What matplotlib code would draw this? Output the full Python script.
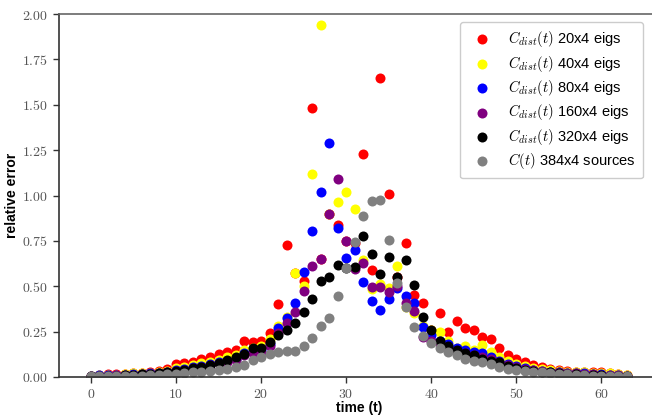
import matplotlib
matplotlib.use("Agg")
import matplotlib.pyplot as plt
import numpy as np

# > Data (relative error per time slice)
times = np.arange(64)

red = [0.005, 0.013, 0.015, 0.015, 0.016, 0.02, 0.022, 0.027, 0.033, 0.045,
       0.07, 0.075, 0.085, 0.1, 0.11, 0.125, 0.14, 0.15, 0.2, 0.195,
       0.2, 0.24, 0.4, 0.73, 0.575, 0.53, 1.48, 0.65, 0.9, 0.84,
       0.75, 0.74, 1.23, 0.59, 1.65, 1.01, 0.55, 0.74, 0.45, 0.41,
       0.26, 0.35, 0.25, 0.31, 0.27, 0.26, 0.22, 0.21, 0.16, 0.12,
       0.1, 0.085, 0.065, 0.055, 0.045, 0.04, 0.035, 0.03, 0.03, 0.028,
       0.025, 0.022, 0.015, 0.012]
yellow = [0.005, 0.01, 0.012, 0.012, 0.015, 0.02, 0.02, 0.024, 0.028, 0.035,
          0.05, 0.055, 0.065, 0.075, 0.085, 0.095, 0.11, 0.12, 0.15, 0.16,
          0.17, 0.21, 0.28, 0.33, 0.575, 0.5, 1.117, 1.94, 0.9, 0.962,
          1.02, 0.926, 0.645, 0.483, 0.515, 0.49, 0.61, 0.384, 0.35, 0.28,
          0.26, 0.25, 0.2, 0.16, 0.17, 0.15, 0.175, 0.14, 0.11, 0.09,
          0.07, 0.06, 0.05, 0.045, 0.04, 0.035, 0.03, 0.03, 0.03, 0.02,
          0.02, 0.02, 0.015, 0.01]
blue = [0.008, 0.01, 0.01, 0.01, 0.012, 0.015, 0.018, 0.02, 0.024, 0.03,
        0.04, 0.045, 0.055, 0.06, 0.07, 0.08, 0.09, 0.1, 0.13, 0.14,
        0.15, 0.18, 0.268, 0.323, 0.41, 0.58, 0.804, 1.02, 1.29, 0.823,
        0.654, 0.7, 0.522, 0.42, 0.367, 0.43, 0.49, 0.446, 0.406, 0.274,
        0.23, 0.2, 0.18, 0.16, 0.15, 0.14, 0.13, 0.11, 0.09, 0.07,
        0.06, 0.05, 0.04, 0.035, 0.03, 0.025, 0.02, 0.02, 0.02, 0.015,
        0.015, 0.012, 0.01, 0.008]
purple = [0.006, 0.008, 0.008, 0.009, 0.01, 0.013, 0.016, 0.019, 0.022, 0.028,
          0.035, 0.04, 0.048, 0.055, 0.065, 0.075, 0.085, 0.095, 0.12, 0.13,
          0.14, 0.17, 0.24, 0.3, 0.356, 0.472, 0.61, 0.652, 0.896, 1.093,
          0.75, 0.595, 0.626, 0.495, 0.495, 0.47, 0.5, 0.406, 0.365, 0.22,
          0.2, 0.18, 0.16, 0.14, 0.13, 0.12, 0.11, 0.1, 0.08, 0.065,
          0.055, 0.045, 0.04, 0.035, 0.03, 0.025, 0.02, 0.02, 0.018, 0.015,
          0.013, 0.01, 0.01, 0.008]
black = [0.005, 0.006, 0.007, 0.008, 0.01, 0.012, 0.015, 0.018, 0.022, 0.028,
         0.034, 0.04, 0.048, 0.057, 0.066, 0.078, 0.092, 0.11, 0.128, 0.158,
         0.158, 0.195, 0.231, 0.259, 0.3, 0.36, 0.428, 0.529, 0.549, 0.617,
         0.6, 0.604, 0.778, 0.675, 0.566, 0.661, 0.553, 0.645, 0.507, 0.332,
         0.259, 0.2, 0.17, 0.15, 0.13, 0.12, 0.1, 0.09, 0.08, 0.06,
         0.05, 0.04, 0.035, 0.03, 0.025, 0.02, 0.018, 0.015, 0.013, 0.01,
         0.009, 0.008, 0.006, 0.005]
gray = [0.003, 0.004, 0.005, 0.005, 0.006, 0.007, 0.008, 0.01, 0.012, 0.014,
        0.017, 0.02, 0.025, 0.03, 0.035, 0.04, 0.045, 0.055, 0.066, 0.094,
        0.108, 0.127, 0.136, 0.145, 0.145, 0.172, 0.213, 0.281, 0.323, 0.446,
        0.599, 0.742, 0.887, 0.97, 0.977, 0.757, 0.516, 0.384, 0.277, 0.228,
        0.186, 0.16, 0.14, 0.12, 0.1, 0.09, 0.08, 0.07, 0.055, 0.045,
        0.04, 0.035, 0.03, 0.025, 0.02, 0.018, 0.015, 0.012, 0.01, 0.008,
        0.006, 0.005, 0.004, 0.003]

series = [red, yellow, blue, purple, black, gray]
colors = ["red", "yellow", "blue", "purple", "black", "gray"]
labels = [
    r"$C_{dist}(t)$ 20x4 eigs",
    r"$C_{dist}(t)$ 40x4 eigs",
    r"$C_{dist}(t)$ 80x4 eigs",
    r"$C_{dist}(t)$ 160x4 eigs",
    r"$C_{dist}(t)$ 320x4 eigs",
    r"$C(t)$ 384x4 sources",
]
y_ticks = [0.0, 0.25, 0.5, 0.75, 1.0, 1.25, 1.5, 1.75, 2.0]
x_ticks = [0, 10, 20, 30, 40, 50, 60]

# Fonts: Arial-like text, Computer Modern for the math bits
plt.rcParams["font.family"] = ["Liberation Sans", "DejaVu Sans"]
plt.rcParams["mathtext.fontset"] = "cm"

fig = plt.figure(figsize=(6.52, 4.17), dpi=100)
ax = fig.add_axes([59 / 652, 40 / 417, 601 / 652, 363 / 417])

for values, color, label in zip(series, colors, labels):
    ax.scatter(times, values, s=52, color=color, label=label, linewidths=0)

ax.set_xlim(-3.75, 66.9)
ax.set_ylim(0, 2.0)
ax.set_xticks(x_ticks)
ax.set_yticks(y_ticks)
ax.set_xticklabels([f"${v}$" for v in x_ticks])
ax.set_yticklabels([f"${v:.2f}$" for v in y_ticks])
ax.tick_params(labelsize=10, labelcolor="#555555", color="#333333",
               length=4, width=1, direction="out")
ax.tick_params(axis="x", pad=3)
ax.tick_params(axis="y", pad=4)

# Spines: dark left/bottom, lighter top, no visible right
ax.spines["left"].set_color("#333333")
ax.spines["bottom"].set_color("#333333")
ax.spines["top"].set_color("#666666")
ax.spines["right"].set_visible(False)
for side in ["left", "bottom", "top"]:
    ax.spines[side].set_linewidth(1.2)

ax.set_ylabel("relative error", fontsize=10, fontweight="bold", labelpad=2)
ax.set_xlabel("time (t)", fontsize=10, fontweight="bold", labelpad=0)

ax.legend(loc="upper right", bbox_to_anchor=(643 / 652, 395 / 417),
          bbox_transform=fig.transFigure, borderaxespad=0, fontsize=10.5,
          handletextpad=0.8, labelspacing=0.3, borderpad=0.5,
          scatterpoints=1, framealpha=1, edgecolor="#cccccc")

plt.savefig("out.png", dpi=100)
